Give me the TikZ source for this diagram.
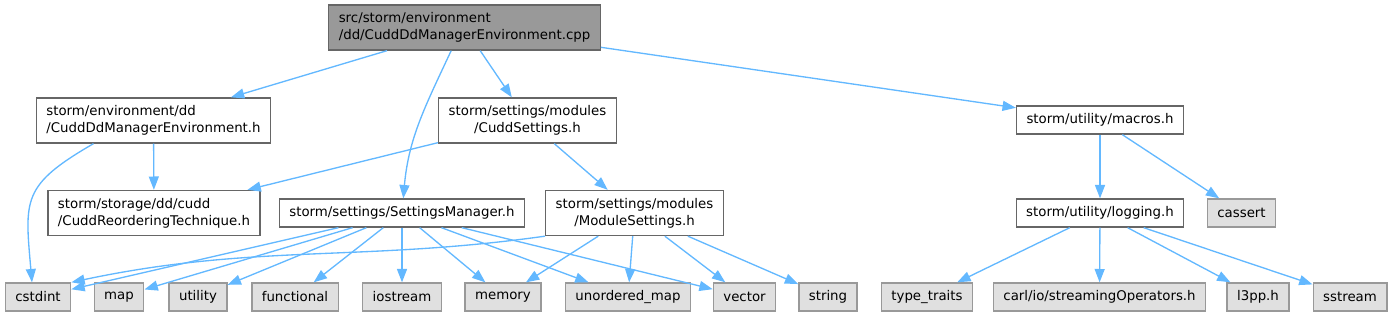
\documentclass[tikz,border=0pt]{standalone}
\usepackage{fontspec}
\setmainfont{DejaVu Sans}
\usepackage{tikz}
\usetikzlibrary{arrows.meta}
\definecolor{edgeblue}{HTML}{63B8FF}
\definecolor{rootgray}{HTML}{999999}
\definecolor{sysgray}{HTML}{E0E0E0}
\definecolor{framegray}{HTML}{666666}
\tikzset{
	hfile/.style={rectangle, draw=framegray, fill=white, line width=1pt,
		inner xsep=7.5pt, minimum height=21pt, font=\fontsize{10}{12.75}\selectfont},
	twoline/.style={minimum height=33.75pt},
	srcfile/.style={hfile, fill=rootgray},
	sysfile/.style={hfile, draw=rootgray, fill=sysgray},
	incl/.style={-{Triangle[length=10pt,width=7.5pt]}, draw=edgeblue, line width=1pt}
}

\begin{document}
\begin{tikzpicture}[x=0.75pt,y=-0.75pt]
        \useasboundingbox (0,0) rectangle (1394,316);

        % ==================================================
        % 1. SOURCE FILE
        % ==================================================
        \node[srcfile, twoline, align=left] (cpp) at (464.5,27.5)
            {src/storm/environment\\/dd/CuddDdManagerEnvironment.cpp};

        % ==================================================
        % 2. DIRECT INCLUDES
        % ==================================================
        \node[hfile, twoline, align=left] (envh) at (153.5,120.5)
            {storm/environment/dd\\/CuddDdManagerEnvironment.h};
        \node[hfile, twoline, align=center] (cuddset) at (527.5,120.5)
            {storm/settings/modules\\/CuddSettings.h};
        \node[hfile] (macros) at (1100,120) {storm/utility/macros.h};

        % ==================================================
        % 3. SECOND LEVEL
        % ==================================================
        \node[hfile, twoline, align=left] (reorder) at (154,213)
            {storm/storage/dd/cudd\\/CuddReorderingTechnique.h};
        \node[hfile] (setmgr) at (402,213) {storm/settings/SettingsManager.h};
        \node[hfile, twoline, align=center] (modset) at (634.5,213)
            {storm/settings/modules\\/ModuleSettings.h};
        \node[hfile] (logging) at (1100,213) {storm/utility/logging.h};
        \node[sysfile] (cassert) at (1241.5,213) {cassert};

        % ==================================================
        % 4. SYSTEM AND LIBRARY HEADERS
        % ==================================================
        \node[sysfile] (cstdint) at (38,297) {cstdint};
        \node[sysfile] (map) at (119,297) {map};
        \node[sysfile] (utility) at (198,297) {utility};
        \node[sysfile] (functional) at (295,297) {functional};
        \node[sysfile] (iostream) at (402,297) {iostream};
        \node[sysfile] (memory) at (503,297) {memory};
        \node[sysfile] (umap) at (628,297) {unordered\_map};
        \node[sysfile] (vector) at (744.5,297) {vector};
        \node[sysfile] (string) at (828,297) {string};
        \node[sysfile] (traits) at (927,297) {type\_traits};
        \node[sysfile] (carl) at (1099.5,297) {carl/io/streamingOperators.h};
        \node[sysfile] (l3pp) at (1258,297) {l3pp.h};
        \node[sysfile] (sstream) at (1350,297) {sstream};

        % ==================================================
        % 5. INCLUDE EDGES
        % ==================================================
        \draw[incl] (cpp) -- (envh);
        \draw[incl] ([xshift=-10pt]cpp.south) to[out=-115,in=85] (setmgr);
        \draw[incl] (cpp) -- (cuddset);
        \draw[incl] (cpp) -- (macros);

        \draw[incl] ([xshift=-45pt]envh.south) to[out=-150,in=95,looseness=1.4] ([xshift=-4.5pt]cstdint.north);
        \draw[incl] (envh) -- (reorder);

        \draw[incl] (cuddset) -- (reorder);
        \draw[incl] (cuddset) -- (modset);

        \draw[incl] (setmgr) -- (cstdint);
        \draw[incl] (setmgr) -- (map);
        \draw[incl] (setmgr) -- (utility);
        \draw[incl] (setmgr) -- (functional);
        \draw[incl] (setmgr) -- (iostream);
        \draw[incl] (setmgr) -- (memory);
        \draw[incl] (setmgr) -- (umap);
        \draw[incl] (setmgr) -- (vector);

        \draw[incl] (modset.south west) to[out=188,in=12] (cstdint.north east);
        \draw[incl] (modset) -- (memory);
        \draw[incl] (modset) -- (umap);
        \draw[incl] (modset) -- (vector);
        \draw[incl] (modset) -- (string);

        \draw[incl] (macros) -- (logging);
        \draw[incl] (macros) -- (cassert);

        \draw[incl] (logging) -- (traits);
        \draw[incl] (logging) -- (carl);
        \draw[incl] (logging) -- (l3pp);
        \draw[incl] (logging) -- (sstream);

    \end{tikzpicture}
\end{document}
